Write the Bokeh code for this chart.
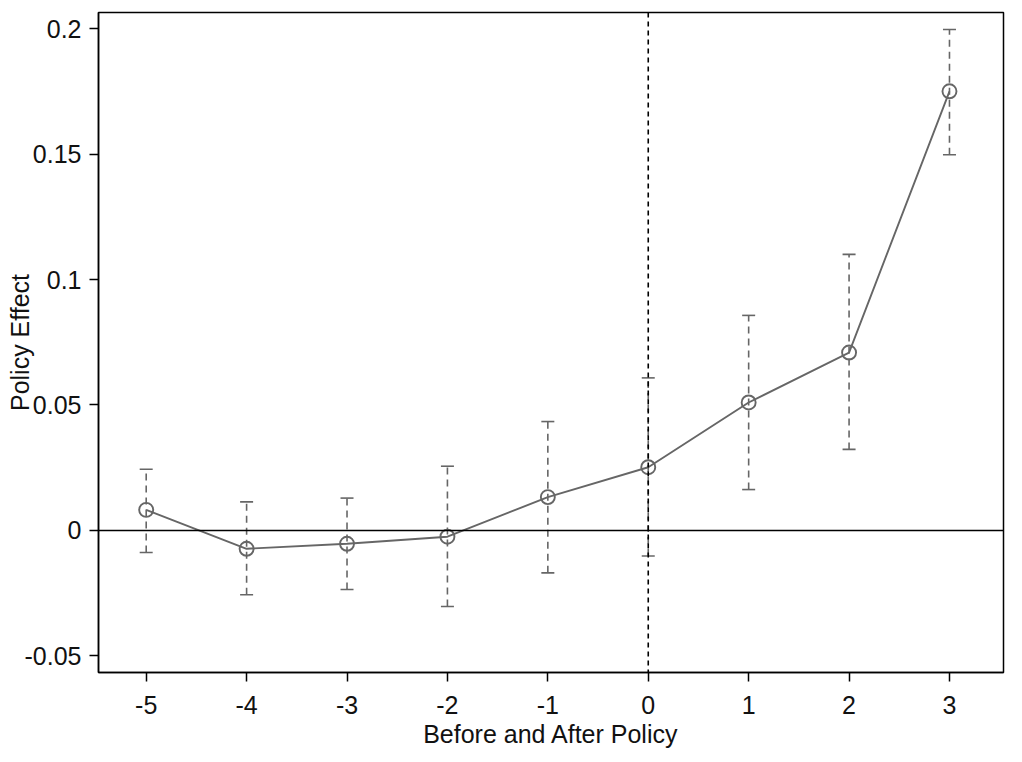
from bokeh.plotting import figure
from bokeh.models import ColumnDataSource, Whisker, TeeHead, Span, FixedTicker
from bokeh.embed import file_html
from bokeh.resources import INLINE

# Data
periods = [-5, -4, -3, -2, -1, 0, 1, 2, 3]
effect = [0.0082, -0.0073, -0.0053, -0.0025, 0.0133, 0.0252, 0.0510, 0.0709, 0.1750]
upper = [0.0244, 0.0114, 0.0129, 0.0256, 0.0434, 0.0608, 0.0857, 0.1100, 0.1996]
lower = [-0.0088, -0.0256, -0.0235, -0.0303, -0.0169, -0.0102, 0.0163, 0.0323, 0.1497]

x_ticks = [-5, -4, -3, -2, -1, 0, 1, 2, 3]
y_ticks = [-0.05, 0, 0.05, 0.1, 0.15, 0.2]
y_tick_labels = ["-0.05", "0", "0.05", "0.1", "0.15", "0.2"]

x_label = "Before and After Policy"
y_label = "Policy Effect"

src = ColumnDataSource(dict(x=periods, y=effect, upper=upper, lower=lower))

FONT = "Liberation Sans"
GREY = "#666666"

p = figure(width=1012, height=760, output_backend="svg", toolbar_location=None,
           x_range=(-5.475, 3.538), y_range=(-0.0566, 0.2064),
           min_border_left=98, min_border_right=9, min_border_top=12, min_border_bottom=88)
p.background_fill_color = "white"
p.border_fill_color = "white"
p.outline_line_color = "black"
p.outline_line_width = 1.5
p.xgrid.visible = False
p.ygrid.visible = False

for ax in (p.xaxis[0], p.yaxis[0]):
    ax.axis_line_color = "black"
    ax.axis_line_width = 1.5
    ax.major_tick_line_color = "black"
    ax.major_tick_line_width = 1.5
    ax.major_tick_out = 9
    ax.major_tick_in = 0
    ax.minor_tick_line_color = None
    ax.major_label_text_font = FONT
    ax.major_label_text_font_size = "25px"
    ax.major_label_text_color = "#111111"
    ax.axis_label_text_font = FONT
    ax.axis_label_text_font_size = "25px"
    ax.axis_label_text_font_style = "normal"
    ax.axis_label_text_color = "#111111"

p.xaxis.ticker = FixedTicker(ticks=x_ticks)
p.yaxis.ticker = FixedTicker(ticks=y_ticks)
p.yaxis.major_label_overrides = {v: s for v, s in zip(y_ticks, y_tick_labels)}
p.xaxis.major_label_overrides = {v: str(v) for v in x_ticks}
p.xaxis.axis_label = x_label
p.yaxis.axis_label = y_label
p.xaxis.major_label_standoff = 14
p.xaxis.axis_label_standoff = 3
p.yaxis.major_label_standoff = 8
p.yaxis.axis_label_standoff = -12

# reference lines
p.add_layout(Span(location=0, dimension="width", line_color="black", line_width=1.6))
p.add_layout(Span(location=0, dimension="height", line_color="black", line_width=1.6,
                  line_dash="5 4"))

# confidence intervals
wh = Whisker(base="x", upper="upper", lower="lower", source=src,
             line_color=GREY, line_width=1.6, line_dash="7 5",
             upper_head=TeeHead(size=13, line_color=GREY, line_width=1.6),
             lower_head=TeeHead(size=13, line_color=GREY, line_width=1.6))
p.add_layout(wh)

p.line("x", "y", source=src, line_color=GREY, line_width=1.9)
p.scatter("x", "y", source=src, marker="circle", size=14, line_color=GREY,
          line_width=1.9, fill_alpha=0)

open("out.html", "w").write(file_html(p, INLINE))
